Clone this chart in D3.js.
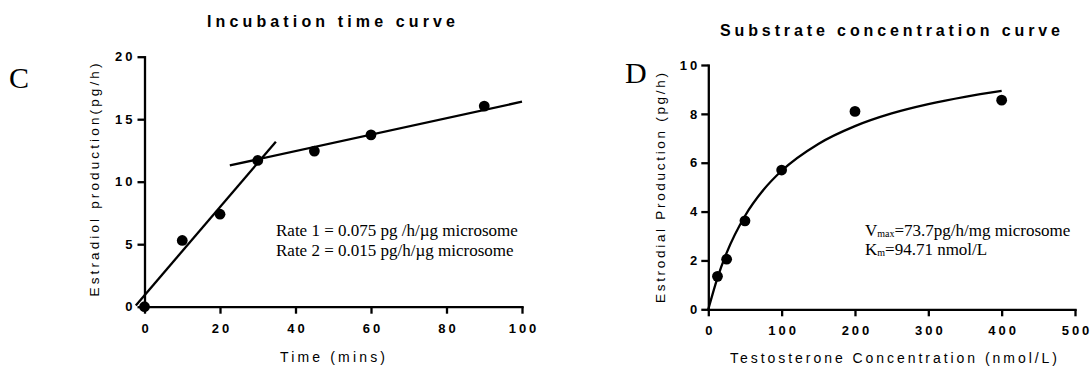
<!DOCTYPE html>
<html>
<head>
<meta charset="utf-8">
<script src="https://cdn.jsdelivr.net/npm/d3@7"></script>
<style>
  body { margin: 0; background: #fff; }
  svg { display: block; }
  .tick text { font-family: "Liberation Sans", Arial, sans-serif; font-weight: bold; font-size: 13px; letter-spacing: 3px; fill: #000; }
  .domain, .tick line { stroke: #000; stroke-width: 2.3; }
  .sans { font-family: "Liberation Sans", Arial, sans-serif; fill: #000; }
  .serif { font-family: "Liberation Serif", "Times New Roman", serif; fill: #000; }
</style>
</head>
<body>
<svg id="chart" width="1092" height="369"></svg>
<script>
// panel C - incubation time
const timeMins = [0, 10, 20, 30, 45, 60, 90];
const estradiolC = [0, 5.3, 7.4, 11.7, 12.45, 13.75, 16.05];
const fit1X = [-2.3, 34.8], fit1Y = [0.1, 13.2];
const fit2X = [22.6, 100], fit2Y = [11.3, 16.4];
const ticksCX = [0, 20, 40, 60, 80, 100];
const ticksCY = [0, 5, 10, 15, 20];

// panel D - substrate concentration
const testoConc = [12.5, 25, 50, 100, 200, 400];
const estrodialD = [1.35, 2.05, 3.62, 5.7, 8.1, 8.56];
const curveConc = [0, 12.5, 25, 50, 75, 100, 150, 200, 250, 300, 350, 400];
const curveVal = [0, 1.29, 2.31, 3.82, 4.88, 5.67, 6.77, 7.5, 8.02, 8.4, 8.7, 8.94];
const ticksDX = [0, 100, 200, 300, 400, 500];
const ticksDY = [0, 2, 4, 6, 8, 10];

const svg = d3.select("#chart");
svg.append("rect").attr("width", 1092).attr("height", 369).attr("fill", "#fff");

function panel(o) {
  const x = d3.scaleLinear().domain(o.xDomain).range(o.xRange);
  const y = d3.scaleLinear().domain(o.yDomain).range(o.yRange);
  const g = svg.append("g");

  g.append("g")
    .attr("transform", `translate(0,${o.yRange[0]})`)
    .call(d3.axisBottom(x).tickValues(o.xTicks).tickSize(7).tickSizeOuter(0).tickPadding(o.xPad))
    .call(a => a.selectAll(".tick text").attr("dx", 1.5));

  g.append("g")
    .attr("transform", `translate(${o.xRange[0]},0)`)
    .call(d3.axisLeft(y).tickValues(o.yTicks).tickSize(7).tickSizeOuter(0).tickPadding(o.yPad));

  g.selectAll(".domain").attr("stroke-linecap", "square");

  const line = d3.line().x(d => x(d[0])).y(d => y(d[1]));
  o.lines.forEach(l => {
    g.append("path")
      .attr("d", line.curve(l.curve || d3.curveLinear)(d3.zip(l.x, l.y)))
      .attr("fill", "none")
      .attr("stroke", "#000")
      .attr("stroke-width", 2.3);
  });

  g.selectAll(".pt")
    .data(d3.zip(o.px, o.py))
    .join("circle")
    .attr("cx", d => x(d[0]))
    .attr("cy", d => y(d[1]))
    .attr("r", 5.4)
    .attr("fill", "#000");

  // titles
  g.append("text").attr("class", "sans")
    .attr("x", o.title.x).attr("y", o.title.y)
    .attr("text-anchor", "middle")
    .attr("font-weight", "bold").attr("font-size", 16)
    .attr("textLength", o.title.w).attr("lengthAdjust", "spacing")
    .text(o.title.text);

  g.append("text").attr("class", "sans")
    .attr("x", o.xTitle.x).attr("y", o.xTitle.y)
    .attr("text-anchor", "middle").attr("font-size", 14)
    .attr("textLength", o.xTitle.w).attr("lengthAdjust", "spacing")
    .text(o.xTitle.text);

  g.append("text").attr("class", "sans")
    .attr("transform", `translate(${o.yTitle.x},${o.yTitle.y}) rotate(-90)`)
    .attr("text-anchor", "middle").attr("font-size", 13.5)
    .attr("textLength", o.yTitle.w).attr("lengthAdjust", "spacing")
    .text(o.yTitle.text);

  g.append("text").attr("class", "serif")
    .attr("x", o.letter.x).attr("y", o.letter.y)
    .attr("font-size", 30)
    .text(o.letter.text);

  return g;
}

const gC = panel({
  xDomain: [0, 100], xRange: [144.5, 522],
  yDomain: [0, 20], yRange: [306.7, 56.7],
  xTicks: ticksCX, yTicks: ticksCY, xPad: 10, yPad: 2,
  px: timeMins, py: estradiolC,
  lines: [{x: fit1X, y: fit1Y}, {x: fit2X, y: fit2Y}],
  title: {text: "Incubation time curve", x: 331, y: 27, w: 248},
  xTitle: {text: "Time (mins)", x: 332.5, y: 362, w: 105},
  yTitle: {text: "Estradiol production(pg/h)", x: 99, y: 180, w: 233},
  letter: {text: "C", x: 9, y: 88}
});

const noteC = gC.append("g").attr("class", "serif").attr("font-size", 17);
noteC.append("text").attr("x", 276).attr("y", 236).text("Rate 1 = 0.075 pg /h/\u00b5g microsome");
noteC.append("text").attr("x", 276).attr("y", 256).text("Rate 2 = 0.015 pg/h/\u00b5g microsome");

const gD = panel({
  xDomain: [0, 500], xRange: [708.3, 1075],
  yDomain: [0, 10], yRange: [309.3, 65],
  xTicks: ticksDX, yTicks: ticksDY, xPad: 9, yPad: 1,
  px: testoConc, py: estrodialD,
  lines: [{x: curveConc, y: curveVal, curve: d3.curveMonotoneX}],
  title: {text: "Substrate concentration curve", x: 890, y: 36, w: 340},
  xTitle: {text: "Testosterone Concentration (nmol/L)", x: 893.5, y: 363, w: 327},
  yTitle: {text: "Estrodial Production (pg/h)", x: 665, y: 188, w: 230},
  letter: {text: "D", x: 625, y: 83}
});

const noteD = gD.append("g").attr("class", "serif").attr("font-size", 17);
const v = noteD.append("text").attr("x", 865).attr("y", 236);
v.append("tspan").text("V");
v.append("tspan").attr("font-size", 10).attr("dy", 1).text("max");
v.append("tspan").attr("dy", -1).text("=73.7pg/h/mg microsome");
const k = noteD.append("text").attr("x", 865).attr("y", 255);
k.append("tspan").text("K");
k.append("tspan").attr("font-size", 10).attr("dy", 1).text("m");
k.append("tspan").attr("dy", -1).text("=94.71 nmol/L");
</script>
</body>
</html>
